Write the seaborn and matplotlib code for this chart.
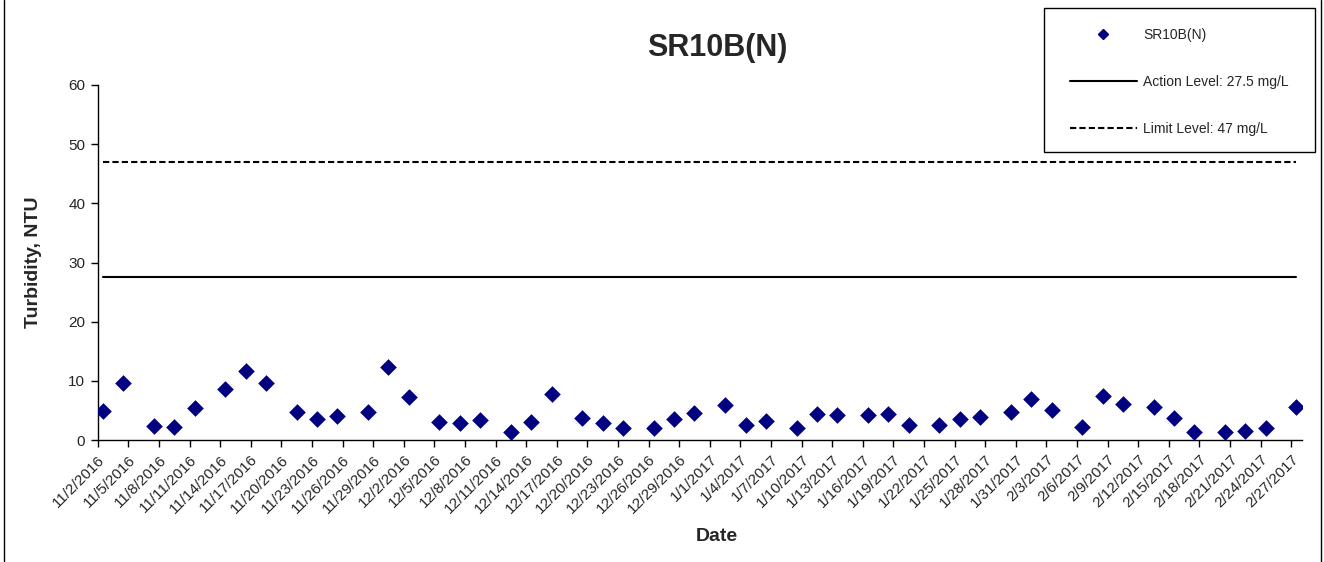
import numpy as np
import pandas as pd
import matplotlib.pyplot as plt
from matplotlib.lines import Line2D
from matplotlib.patches import Rectangle
import seaborn as sns

# sample dates and turbidity readings (NTU)
dates = ['2016-11-02', '2016-11-04', '2016-11-07', '2016-11-09', '2016-11-11',
         '2016-11-14', '2016-11-16', '2016-11-18', '2016-11-21', '2016-11-23',
         '2016-11-25', '2016-11-28', '2016-11-30', '2016-12-02', '2016-12-05',
         '2016-12-07', '2016-12-09', '2016-12-12', '2016-12-14', '2016-12-16',
         '2016-12-19', '2016-12-21', '2016-12-23', '2016-12-26', '2016-12-28',
         '2016-12-30', '2017-01-02', '2017-01-04', '2017-01-06', '2017-01-09',
         '2017-01-11', '2017-01-13', '2017-01-16', '2017-01-18', '2017-01-20',
         '2017-01-23', '2017-01-25', '2017-01-27', '2017-01-30', '2017-02-01',
         '2017-02-03', '2017-02-06', '2017-02-08', '2017-02-10', '2017-02-13',
         '2017-02-15', '2017-02-17', '2017-02-20', '2017-02-22', '2017-02-24',
         '2017-02-27']
turbidity = [4.9, 9.6, 2.3, 2.2, 5.4, 8.6, 11.7, 9.6, 4.7, 3.5,
             4.0, 4.7, 12.3, 7.3, 3.1, 2.8, 3.4, 1.4, 3.0, 7.8,
             3.7, 2.8, 2.1, 2.0, 3.6, 4.5, 6.0, 2.6, 3.2, 2.1,
             4.4, 4.2, 4.3, 4.4, 2.6, 2.6, 3.5, 3.9, 4.7, 7.0,
             5.0, 2.2, 7.5, 6.1, 5.5, 3.8, 1.3, 1.3, 1.6, 2.1,
             5.6]
action_level = 27.5
limit_level = 47

station = 'SR10B(N)'
x_start, x_end = '2016-11-02', '2017-02-28'
y_ticks = [0, 10, 20, 30, 40, 50, 60]

W, H = 1324, 562

sns.set_style('ticks')
plt.rcParams['font.family'] = ['Liberation Sans', 'DejaVu Sans']

df = pd.DataFrame({'date': pd.to_datetime(dates), 'ntu': turbidity})
# Excel date axis puts each point in the middle of its day
df['x'] = df['date'] + pd.Timedelta(hours=12)
df['action'] = action_level
df['limit'] = limit_level

fig = plt.figure(figsize=(W / 100, H / 100), dpi=100)
ax = fig.add_axes([97.7 / W, 1 - 440 / H, (1301.5 - 97.7) / W, 355 / H])

dash = (0, (3, 1.5))
sns.lineplot(data=df, x='x', y='action', color='black', linewidth=1.5, ax=ax)
sns.lineplot(data=df, x='x', y='limit', color='black', linewidth=1.5,
             linestyle=dash, ax=ax)
sns.scatterplot(data=df, x='x', y='ntu', marker='D', color='#000080', s=72,
                linewidth=0, ax=ax, zorder=3)

ax.set_xlim(pd.Timestamp(x_start), pd.Timestamp(x_end))
ax.set_ylim(y_ticks[0], y_ticks[-1])
ax.set_yticks(y_ticks)

tick_dates = pd.date_range(x_start, '2017-02-27', freq='3D')
ax.set_xticks(tick_dates)
ax.set_xticklabels([f'{d.month}/{d.day}/{d.year}' for d in tick_dates],
                   rotation=45, ha='right', va='top', rotation_mode='anchor')

ax.tick_params(axis='both', labelsize=11, length=5, width=1, color='black',
               direction='out', pad=4)
for side in ['top', 'right']:
    ax.spines[side].set_visible(False)
for side in ['left', 'bottom']:
    ax.spines[side].set_color('black')
    ax.spines[side].set_linewidth(1)

ax.set_xlabel('Date', fontsize=14, fontweight='bold', labelpad=0)
ax.xaxis.set_label_coords(0.514, -88 / 355)
ax.set_ylabel('Turbidity, NTU', fontsize=14, fontweight='bold')
ax.yaxis.set_label_coords((42 - 97.7) / 1203.8, 0.5)
fig.text(717 / W, 1 - 48 / H, station, fontsize=22, fontweight='bold',
         ha='center', va='center')

handles = [
    Line2D([], [], marker='D', color='#000080', linestyle='none', markersize=5),
    Line2D([], [], color='black', linewidth=1.5),
    Line2D([], [], color='black', linewidth=1.5, linestyle=dash),
]
labels = [station, f'Action Level: {action_level} mg/L', f'Limit Level: {limit_level} mg/L']
fig.legend(handles, labels, loc='upper left',
           bbox_to_anchor=(1070 / W, 1 - 28 / H),
           fontsize=10, frameon=False, borderpad=0, labelspacing=2.37,
           handlelength=4.8, handletextpad=0.45, borderaxespad=0)
# legend box
fig.add_artist(Rectangle((1044 / W, 1 - 152 / H), (1315 - 1044) / W, 144 / H,
                         transform=fig.transFigure, fill=False,
                         edgecolor='black', linewidth=1))

# outer chart border
fig.add_artist(Line2D([3.5 / W, 3.5 / W], [0, 1], color='black', linewidth=1))
fig.add_artist(Line2D([1320.5 / W, 1320.5 / W], [0, 1], color='black', linewidth=1))

fig.savefig('out.png', dpi=100)
